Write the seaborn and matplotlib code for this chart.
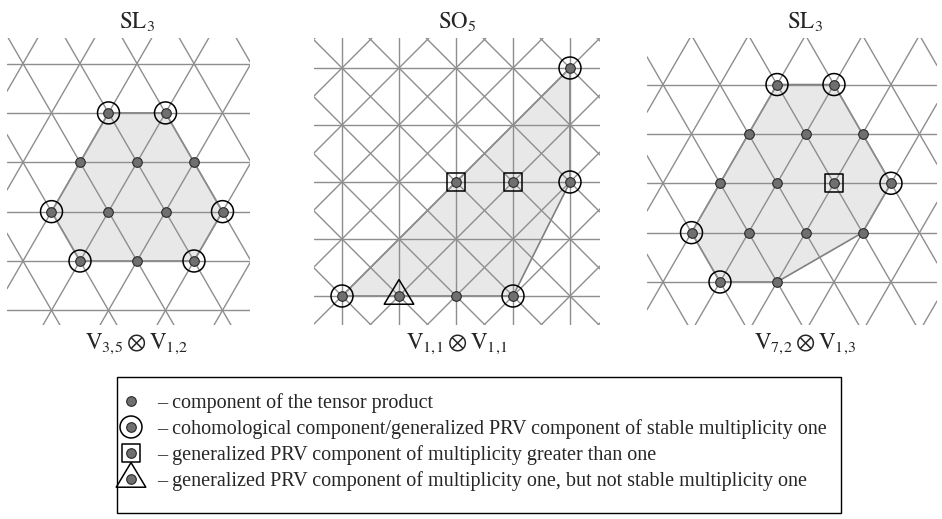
import numpy as np
import pandas as pd
import matplotlib.pyplot as plt
import seaborn as sns
from matplotlib.patches import Rectangle

sns.set_style("white")
plt.rcParams['mathtext.fontset'] = 'stix'
plt.rcParams['font.family'] = ['Liberation Serif', 'DejaVu Serif']

H = np.sqrt(3) / 2  # row height of the triangular lattice

# --- data (lattice coordinates) ---
# panel 1: SL3, V_{3,5} (x) V_{1,2}; x in lattice steps, y in rows
p1_x = [0.5, 1.5, 0, 1, 2, -0.5, 0.5, 1.5, 2.5, 0, 1, 2]
p1_row = [3, 3, 2, 2, 2, 1, 1, 1, 1, 0, 0, 0]
p1_kind = ['ring', 'ring', 'dot', 'dot', 'dot', 'ring', 'dot', 'dot', 'ring', 'ring', 'dot', 'ring']
p1_hull_x = [0.5, 1.5, 2.5, 2, 0, -0.5]
p1_hull_row = [3, 3, 1, 0, 0, 1]

# panel 2: SO5, V_{1,1} (x) V_{1,1}; square lattice
p2_x = [0, 1, 2, 3, 2, 3, 4, 4]
p2_y = [0, 0, 0, 0, 2, 2, 2, 4]
p2_kind = ['ring', 'tri', 'dot', 'ring', 'square', 'square', 'ring', 'ring']
p2_hull_x = [0, 3, 4, 4]
p2_hull_y = [0, 0, 2, 4]

# panel 3: SL3, V_{7,2} (x) V_{1,3}
p3_x = [1, 2, 0.5, 1.5, 2.5, 0, 1, 2, 3, -0.5, 0.5, 1.5, 2.5, 0, 1]
p3_row = [4, 4, 3, 3, 3, 2, 2, 2, 2, 1, 1, 1, 1, 0, 0]
p3_kind = ['ring', 'ring', 'dot', 'dot', 'dot', 'dot', 'dot', 'square', 'ring',
           'ring', 'dot', 'dot', 'dot', 'ring', 'dot']
p3_hull_x = [1, 2, 3, 2.5, 1, 0, -0.5]
p3_hull_row = [4, 4, 2, 1, 0, 0, 1]

titles = [r'$\mathrm{SL}_3$', r'$\mathrm{SO}_5$', r'$\mathrm{SL}_3$']
products = [r'$\mathrm{V}_{3,\!5} \otimes \mathrm{V}_{1,\!2}$',
            r'$\mathrm{V}_{1,\!1} \otimes \mathrm{V}_{1,\!1}$',
            r'$\mathrm{V}_{7,\!2} \otimes \mathrm{V}_{1,\!3}$']

legend_kinds = ['dot', 'ring', 'square', 'tri']
legend_texts = ['– component of the tensor product',
                '– cohomological component/generalized PRV component of stable multiplicity one',
                '– generalized PRV component of multiplicity greater than one',
                '– generalized PRV component of multiplicity one, but not stable multiplicity one']

# --- styles ---
W, HT = 942, 519
U = 57.0  # pixels per lattice step
GRID = '#8e8e8e'
LW = 1.0
TRI = [(0, 2), (-1.8, -1), (1.8, -1), (0, 2)]  # closed triangle centred on its centroid
DOT = dict(marker='o', s=48, color='#6f6f6f', edgecolor='#2a2a2a', linewidth=0.8)
OVER = {
    'ring': dict(marker='o', s=250, facecolor='none', edgecolor='black', linewidth=1.1),
    'square': dict(marker='s', s=175, facecolor='none', edgecolor='black', linewidth=1.1),
    'tri': dict(marker=TRI, s=560, facecolor='none', edgecolor='black', linewidth=1.1),
}

fig = plt.figure(figsize=(W / 100, HT / 100), dpi=100)


def make_ax(left, top, right, bottom, ox, oy):
    ax = fig.add_axes([left / W, 1 - bottom / HT, (right - left) / W, (bottom - top) / HT])
    ax.set_xlim((left - ox) / U, (right - ox) / U)
    ax.set_ylim((oy - bottom) / U, (oy - top) / U)
    ax.axis('off')
    return ax


def draw_points(ax, df):
    sns.scatterplot(data=df, x='x', y='y', ax=ax, zorder=4, legend=False, **DOT)
    for kind, sty in OVER.items():
        sub = df[df['kind'] == kind]
        if len(sub):
            sns.scatterplot(data=sub, x='x', y='y', ax=ax, zorder=5, legend=False, **sty)


def sl3_lattice(ax):
    for k in range(-8, 14):
        ax.axhline(k * H, color=GRID, lw=LW, zorder=2)
        ax.axline((k, 0), slope=np.sqrt(3), color=GRID, lw=LW, zorder=2)
        ax.axline((k, 0), slope=-np.sqrt(3), color=GRID, lw=LW, zorder=2)


def so5_lattice(ax):
    for k in range(-8, 14):
        ax.axhline(k, color=GRID, lw=LW, zorder=2)
        ax.axvline(k, color=GRID, lw=LW, zorder=2)
        ax.axline((k, 0), slope=1, color=GRID, lw=LW, zorder=2)
        ax.axline((k, 0), slope=-1, color=GRID, lw=LW, zorder=2)


def hull(ax, hx, hy):
    ax.fill(hx, hy, facecolor='#e8e8e8', edgecolor='#808080', lw=LW * 1.2, zorder=1)


# panel 1
ax1 = make_ax(7, 38, 250, 325, 80, 261)
sl3_lattice(ax1)
hull(ax1, p1_hull_x, np.array(p1_hull_row) * H)
draw_points(ax1, pd.DataFrame({'x': p1_x, 'y': np.array(p1_row) * H, 'kind': p1_kind}))

# panel 2
ax2 = make_ax(314, 38, 600, 325, 342, 296)
so5_lattice(ax2)
hull(ax2, p2_hull_x, p2_hull_y)
draw_points(ax2, pd.DataFrame({'x': p2_x, 'y': p2_y, 'kind': p2_kind}))

# panel 3
ax3 = make_ax(647, 38, 937, 325, 720, 282)
sl3_lattice(ax3)
hull(ax3, p3_hull_x, np.array(p3_hull_row) * H)
draw_points(ax3, pd.DataFrame({'x': p3_x, 'y': np.array(p3_row) * H, 'kind': p3_kind}))

# overlay in pixel coordinates for titles, labels and legend
ov = fig.add_axes([0, 0, 1, 1])
ov.set_xlim(0, W)
ov.set_ylim(HT, 0)
ov.axis('off')

centres = [137, 457, 805]
for cx, t, p in zip(centres, titles, products):
    ov.text(cx, 28, t, ha='center', va='baseline', fontsize=16.5)
    ov.text(cx, 349, p, ha='center', va='baseline', fontsize=16.5)

ov.add_patch(Rectangle((117, 377), 841 - 117, 513 - 377, fill=False, edgecolor='black', lw=1.0))
leg_y = [401, 427, 453, 479]
for ly, kind, txt in zip(leg_y, legend_kinds, legend_texts):
    pt = pd.DataFrame({'x': [131], 'y': [ly]})
    sns.scatterplot(data=pt, x='x', y='y', ax=ov, zorder=4, legend=False, **DOT)
    if kind in OVER:
        sns.scatterplot(data=pt, x='x', y='y', ax=ov, zorder=5, legend=False, **OVER[kind])
    ov.text(157, ly, txt, ha='left', va='center_baseline', fontsize=14.5)

ov.set_xlim(0, W)
ov.set_ylim(HT, 0)
ov.axis('off')

fig.savefig('out.png', dpi=100)
